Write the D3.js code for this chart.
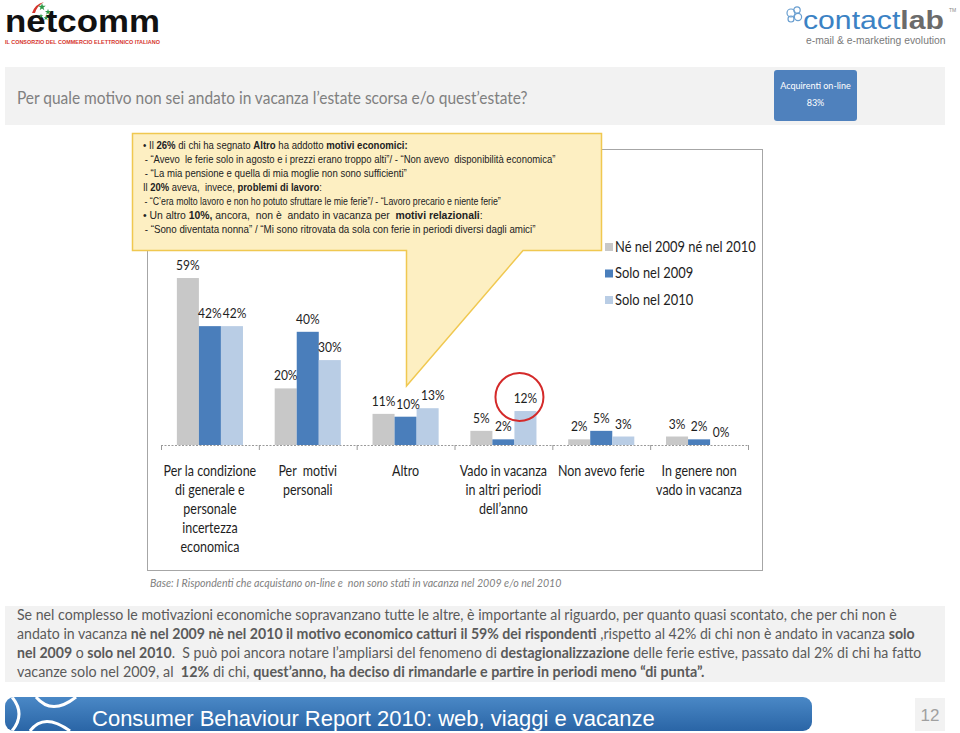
<!DOCTYPE html>
<html><head><meta charset="utf-8">
<script src="https://cdn.jsdelivr.net/npm/d3@7/dist/d3.min.js"></script>
<style>body{margin:0;background:#fff}svg{display:block}text{white-space:pre}</style>
</head><body>
<svg id="c" width="960" height="733"></svg>
<script>
// ---------- DATA ----------
const categories = ["cond", "pers", "altro", "periodi", "ferie", "nonvado"];
const categoryLines = [
  ["Per la condizione", "di generale e", "personale", "incertezza", "economica"],
  ["Per  motivi", "personali"],
  ["Altro"],
  ["Vado in vacanza", "in altri periodi", "dell’anno"],
  ["Non avevo ferie"],
  ["In genere non", "vado in vacanza"]
];
const seriesNames = ["Né nel 2009 né nel 2010", "Solo nel 2009", "Solo nel 2010"];
const neNe2009Ne2010 = [59, 20, 11, 5, 2, 3];
const solo2009 = [42, 40, 10, 2, 5, 2];
const solo2010 = [42, 30, 13, 12, 3, 0];
const seriesColors = ["#c8c8c8", "#4a7ebb", "#b9cde5"];
const highlightCategory = "periodi";
const highlightSeries = 2;

const titleText = "Per quale motivo non sei andato in vacanza l’estate scorsa e/o quest’estate?";
const badgeLines = ["Acquirenti on-line", "83%"];
const baseNote = "Base: I Rispondenti che acquistano on-line e  non sono stati in vacanza nel 2009 e/o nel 2010";
const calloutLines = [
  [["• Il ", 0], ["26%", 1], [" di chi ha segnato ", 0], ["Altro", 1], [" ha addotto ", 0], ["motivi economici:", 1]],
  [[" - “Avevo  le ferie solo in agosto e i prezzi erano troppo alti”/ - “Non avevo  disponibilità economica”", 0]],
  [[" - “La mia pensione e quella di mia moglie non sono sufficienti”", 0]],
  [["Il ", 0], ["20%", 1], [" aveva,  invece, ", 0], ["problemi di lavoro", 1], [":", 0]],
  [[" - “C’era molto lavoro e non ho potuto sfruttare le mie ferie”/ - “Lavoro precario e niente ferie”", 0]],
  [["• Un altro ", 0], ["10%,", 1], [" ancora,  non è  andato in vacanza per  ", 0], ["motivi relazionali", 1], [":", 0]],
  [[" - “Sono diventata nonna” / “Mi sono ritrovata da sola con ferie in periodi diversi dagli amici”", 0]]
];
const calloutWidths = [265, 414, 265, 179, 359, 340, 394];
const paragraphLines = [
  [["Se nel complesso le motivazioni economiche sopravanzano tutte le altre, è importante al riguardo, per quanto quasi scontato, che per chi non è", 0]],
  [["andato in vacanza ", 0], ["nè nel 2009 nè nel 2010 il motivo economico catturi il 59% dei rispondenti", 1], [" ,rispetto al 42% di chi non è andato in vacanza ", 0], ["solo", 1]],
  [["nel 2009", 1], [" o ", 0], ["solo nel 2010", 1], [".  S può poi ancora notare l’ampliarsi del fenomeno di ", 0], ["destagionalizzazione", 1], [" delle ferie estive, passato dal 2% di chi ha fatto", 0]],
  [["vacanze solo nel 2009, al  ", 0], ["12%", 1], [" di chi, ", 0], ["quest’anno, ha deciso di rimandarle e partire in periodi meno “di punta”.", 1]]
];
const paragraphWidths = [880, 899, 905, 688];
const footerText = "Consumer Behaviour Report 2010: web, viaggi e vacanze";
const pageNumber = "12";

// ---------- HELPERS ----------
const svg = d3.select("#c");
const FONT = "Lato, 'Open Sans', sans-serif";
const ARIAL = "'Liberation Sans', Arial, sans-serif";
const CONDENSE = 0.86;
function fitWidth(sel, x0, w) {
  const len = sel.node().getBBox().width;
  if (len > 0) sel.attr("transform", `translate(${x0},0) scale(${w / len},1) translate(${-x0},0)`);
}
function condense(sel, cx, k) {
  sel.attr("transform", `translate(${cx},0) scale(${k},1) translate(${-cx},0)`);
}
function richText(parent, segs, x, y, opts) {
  const t = parent.append("text").attr("x", x).attr("y", y)
    .attr("font-family", opts.family).attr("font-size", opts.size).attr("fill", opts.fill);
  segs.forEach(([s, b]) => t.append("tspan").attr("font-weight", b ? "bold" : "normal").text(s));
  return t;
}

// ---------- LOGOS ----------
const lg = svg.append("g");
const nt = lg.append("text").attr("x", 5).attr("y", 32).attr("font-family", ARIAL)
  .attr("font-size", 31).attr("font-weight", "bold").attr("fill", "#111").text("netcomm");
fitWidth(nt, 5, 155);
lg.append("path").attr("d", "M32,13 Q35,4 44,2 Q37,6 35,13 Z").attr("fill", "#d6342c");
const star = d3.symbol().type(d3.symbolStar);
[[42, 7, 18], [48, 12, 12], [46, 18, 9], [41, 16, 7]].forEach(([x, y, s]) =>
  lg.append("path").attr("d", star.size(s)()).attr("transform", `translate(${x},${y})`).attr("fill", "#2e9a48"));
const sub = lg.append("text").attr("x", 5).attr("y", 44).attr("font-family", ARIAL)
  .attr("font-size", 5.5).attr("font-weight", "bold").attr("fill", "#d6342c").text("IL CONSORZIO DEL COMMERCIO ELETTRONICO ITALIANO");
fitWidth(sub, 5, 156);

// contactlab
[[791, 13, 4], [797, 10, 3.2], [798, 17, 3.6], [791, 19, 3]].forEach(([x, y, r]) =>
  lg.append("circle").attr("cx", x).attr("cy", y).attr("r", r).attr("fill", "none").attr("stroke", "#6a9fd0").attr("stroke-width", 1.2));
const cl = lg.append("text").attr("x", 803).attr("y", 29).attr("font-family", ARIAL).attr("font-size", 26);
cl.append("tspan").attr("fill", "#3b82c4").text("contact");
cl.append("tspan").attr("fill", "#6b6b6b").attr("font-weight", "bold").text("lab");
fitWidth(cl, 803, 141);
lg.append("text").attr("x", 949).attr("y", 12).attr("font-size", 5).attr("font-family", ARIAL).attr("fill", "#888").text("TM");
const em = lg.append("text").attr("x", 806).attr("y", 44).attr("font-family", ARIAL).attr("font-size", 10.5)
  .attr("fill", "#7a7a7a").text("e-mail & e-marketing evolution");
fitWidth(em, 806, 140);

// ---------- HEADER ----------
svg.append("rect").attr("x", 5).attr("y", 67).attr("width", 940).attr("height", 58).attr("fill", "#f2f2f2");
const tt = svg.append("text").attr("x", 17).attr("y", 104).attr("font-family", FONT).attr("font-size", 17)
  .attr("fill", "#808080").text(titleText);
fitWidth(tt, 17, 511);
svg.append("rect").attr("x", 774).attr("y", 70).attr("width", 83).attr("height", 51).attr("rx", 3).attr("fill", "#4f81bd");
badgeLines.forEach((s, i) => svg.append("text").attr("x", 815.5).attr("y", 89 + i * 17).attr("text-anchor", "middle")
  .attr("font-family", FONT).attr("font-size", 9).attr("fill", "#fff").text(s));

// ---------- CHART ----------
svg.append("rect").attr("x", 147.5).attr("y", 149.5).attr("width", 615).attr("height", 421)
  .attr("fill", "#fff").attr("stroke", "#a6a6a6").attr("stroke-width", 1);

const x = d3.scaleBand().domain(categories).range([161, 748]).paddingInner(0).paddingOuter(0);
const xs = d3.scaleBand().domain(d3.range(seriesNames.length)).range([0, x.bandwidth()]).paddingInner(0).paddingOuter(0.72);
const y = d3.scaleLinear().domain([0, 60]).range([445, 445 - 60 * 2.83]);
const seriesValues = [neNe2009Ne2010, solo2009, solo2010];

const rows = [];
categories.forEach((c, ci) => seriesValues.forEach((vals, si) => rows.push({ c, si, v: vals[ci] })));

const plot = svg.append("g");
plot.selectAll("rect.bar").data(rows).join("rect").attr("class", "bar")
  .attr("x", d => x(d.c) + xs(d.si)).attr("width", xs.bandwidth())
  .attr("y", d => y(d.v)).attr("height", d => y(0) - y(d.v))
  .attr("fill", d => seriesColors[d.si]);

// axis
const axis = d3.axisBottom(d3.scaleLinear().domain([0, categories.length]).range([161, 748]))
  .tickValues(d3.range(categories.length + 1)).tickSize(5).tickFormat("");
const ag = svg.append("g").attr("transform", "translate(0,445)").call(axis);
ag.select(".domain").attr("stroke", "#9a9a9a").attr("stroke-dasharray", "2,1.5").attr("d", "M161,0.5H748");
ag.selectAll(".tick line").attr("stroke", "#9a9a9a");

// data labels with simple collision avoidance
const lblSel = plot.selectAll("text.lbl").data(rows).join("text").attr("class", "lbl")
  .attr("y", d => y(d.v) - 8)
  .attr("text-anchor", "middle").attr("font-family", FONT).attr("font-size", 14).attr("fill", "#1e1e1e")
  .text(d => d.v + "%");
let prev = null;
lblSel.each(function (d) {
  const el = d3.select(this);
  let cx = x(d.c) + xs(d.si) + xs.bandwidth() / 2;
  el.attr("x", cx);
  const bb = this.getBBox();
  const w = bb.width * CONDENSE;
  const top = bb.y, bot = bb.y + bb.height * 0.6;
  if (prev && prev.c === d.c && !(bot < prev.top || top > prev.bot)) {
    const minCx = prev.right + 1 + w / 2;
    if (cx < minCx) cx = minCx;
  }
  el.attr("x", cx);
  condense(el, cx, CONDENSE);
  prev = { c: d.c, right: cx + w / 2, top, bot };
});

// highlight circle
const hx = x(highlightCategory) + xs(highlightSeries) + xs.bandwidth() / 2;
const hv = solo2010[categories.indexOf(highlightCategory)];
svg.append("ellipse").attr("cx", hx - 6).attr("cy", y(hv) - 14).attr("rx", 24).attr("ry", 24)
  .attr("fill", "none").attr("stroke", "#d42a2a").attr("stroke-width", 2);

// category labels
categories.forEach((c, i) => {
  const cx = x(c) + x.bandwidth() / 2;
  categoryLines[i].forEach((ln, j) => {
    const t = svg.append("text")
      .attr("x", cx).attr("y", 476 + j * 19).attr("text-anchor", "middle")
      .attr("font-family", FONT).attr("font-size", 14.5).attr("fill", "#1e1e1e").text(ln);
    condense(t, cx, CONDENSE);
  });
});

// legend
seriesNames.forEach((s, i) => {
  const ly = 247 + i * 26.5;
  svg.append("rect").attr("x", 605).attr("y", ly - 4).attr("width", 8).attr("height", 8).attr("fill", seriesColors[i]);
  const t = svg.append("text").attr("x", 615).attr("y", ly + 5).attr("font-family", FONT).attr("font-size", 15)
    .attr("fill", "#1e1e1e").text(s);
  condense(t, 615, CONDENSE);
});

// base note
const bn = svg.append("text").attr("x", 150).attr("y", 587).attr("font-family", FONT).attr("font-size", 11)
  .attr("font-style", "italic").attr("fill", "#7f7f7f").text(baseNote);
fitWidth(bn, 150, 412);

// ---------- CALLOUT ----------
svg.append("path").attr("d", "M132.5,133.5H601.5V250.5H523L406.5,386V250.5H132.5Z")
  .attr("fill", "#fdefc2").attr("stroke", "#f0c850").attr("stroke-width", 1.5);
calloutLines.forEach((segs, i) => {
  const x0 = i === 1 || i === 2 || i === 4 || i === 6 ? 142 : 143;
  const t = richText(svg, segs, x0, 149 + i * 14, { family: ARIAL, size: 10, fill: "#222" });
  fitWidth(t, x0, calloutWidths[i]);
});

// ---------- PARAGRAPH ----------
svg.append("rect").attr("x", 5).attr("y", 606).attr("width", 940).attr("height", 76).attr("fill", "#f2f2f2");
paragraphLines.forEach((segs, i) => {
  const t = richText(svg, segs, 17, 620 + i * 19, { family: FONT, size: 15, fill: "#5a5a5a" });
  fitWidth(t, 17, paragraphWidths[i]);
});

// ---------- FOOTER ----------
const defs = svg.append("defs");
const grad = defs.append("linearGradient").attr("id", "fg").attr("x1", 0).attr("y1", 0).attr("x2", 0).attr("y2", 1);
grad.append("stop").attr("offset", 0).attr("stop-color", "#4a88c6");
grad.append("stop").attr("offset", 1).attr("stop-color", "#2a65a6");
defs.append("clipPath").attr("id", "fc").append("rect").attr("x", 5).attr("y", 697).attr("width", 807).attr("height", 34).attr("rx", 9);
svg.append("rect").attr("x", 5).attr("y", 697).attr("width", 807).attr("height", 34).attr("rx", 9).attr("fill", "url(#fg)");
const deco = svg.append("g").attr("clip-path", "url(#fc)").attr("fill", "none").attr("stroke", "#fff").attr("stroke-width", 3);
deco.append("path").attr("d", "M12,697 Q26,714 12,731");
deco.append("path").attr("d", "M36,697 Q52,716 76,697");
deco.append("path").attr("d", "M30,731 Q44,712 70,731");
const ft = svg.append("text").attr("x", 92).attr("y", 726).attr("font-family", ARIAL)
  .attr("font-size", 22).attr("fill", "#fff").text(footerText);
fitWidth(ft, 92, 563);
svg.append("rect").attr("x", 915).attr("y", 698).attr("width", 30).attr("height", 33).attr("fill", "#f2f2f2");
svg.append("text").attr("x", 930).attr("y", 721).attr("text-anchor", "middle").attr("font-family", ARIAL)
  .attr("font-size", 17).attr("fill", "#a0a0a0").text(pageNumber);
</script>
</body></html>
